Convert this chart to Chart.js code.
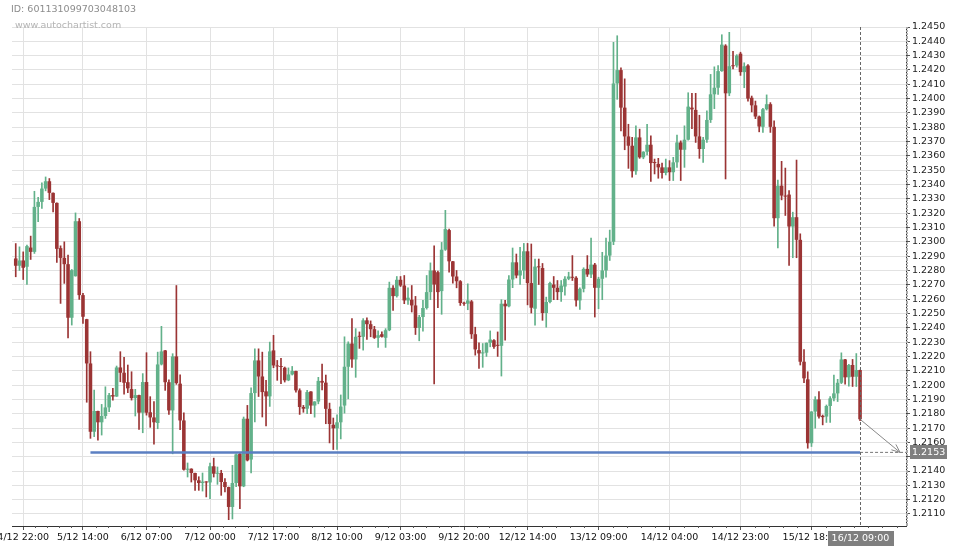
<!DOCTYPE html>
<html>
<head>
<meta charset="utf-8">
<script src="https://cdn.jsdelivr.net/npm/chart.js@4.4.0/dist/chart.umd.min.js"></script>
<style>
  html, body { margin: 0; padding: 0; background: #fff; }
  #wrap { position: relative; width: 960px; height: 550px; }
  #chart-id { position: absolute; left: 11px; top: 3px; font: 9.5px "DejaVu Sans", sans-serif; color: #8c8c8c; }
  #chart-site { position: absolute; left: 15px; top: 19px; font: 9.5px "DejaVu Sans", sans-serif; color: #b4b4b4; }
</style>
</head>
<body>
<div id="wrap">
  <canvas id="chart" width="960" height="550"></canvas>
  <div id="chart-id">ID: 601131099703048103</div>
  <div id="chart-site">www.autochartist.com</div>
</div>
<script>
// hourly candles
const open = [
  1.22884, 1.22833, 1.2287, 1.22826, 1.2296, 1.2293, 1.23244, 1.23279, 1.23372, 1.23423,
  1.23342, 1.23272, 1.22956, 1.22888, 1.22844, 1.2247, 1.2276, 1.23144, 1.22628, 1.2246,
  1.22151, 1.21674, 1.21819, 1.2174, 1.21784, 1.21844, 1.2193, 1.2192, 1.22123, 1.22086,
  1.2202, 1.21972, 1.21909, 1.2193, 1.21807, 1.22021, 1.2181, 1.21774, 1.21735, 1.22144,
  1.22242, 1.2202, 1.21823, 1.222, 1.2201, 1.21753, 1.21409, 1.21416, 1.21386, 1.21335,
  1.21316, 1.21326, 1.2132, 1.21433, 1.21381, 1.21386, 1.21323, 1.21288, 1.21149, 1.21316,
  1.2152, 1.21293, 1.21765, 1.2148, 1.21944, 1.22172, 1.2206, 1.21956, 1.21921, 1.22242,
  1.22137, 1.2213, 1.22121, 1.22033, 1.22074, 1.22098, 1.21963, 1.21847, 1.21835, 1.21955,
  1.21857, 1.21885, 1.22029, 1.22017, 1.21834, 1.21723, 1.21698, 1.2174, 1.21857, 1.22128,
  1.2229, 1.22179, 1.22344, 1.22337, 1.22452, 1.22425, 1.2239, 1.2233, 1.22355, 1.2233,
  1.22383, 1.22679, 1.22621, 1.22735, 1.22695, 1.22591, 1.22596, 1.22556, 1.22399, 1.22475,
  1.22538, 1.22649, 1.228, 1.22788, 1.22656, 1.22945, 1.23082, 1.22864, 1.22758, 1.22725,
  1.22573, 1.22568, 1.22584, 1.22355, 1.22244, 1.22221, 1.22226, 1.22295, 1.22313, 1.22279,
  1.22274, 1.22568, 1.2255, 1.22737, 1.22857, 1.22765, 1.228, 1.22934, 1.22712, 1.22533,
  1.22827, 1.22817, 1.22503, 1.2258, 1.22702, 1.22679, 1.22649, 1.22688, 1.22742, 1.22753,
  1.22749, 1.22591, 1.22672, 1.22811, 1.22772, 1.22841, 1.22679, 1.22742, 1.228, 1.22904,
  1.23, 1.24106, 1.24199, 1.23937, 1.23736, 1.23671, 1.23493, 1.23729, 1.2359, 1.23629,
  1.23678, 1.23555, 1.23544, 1.2352, 1.23481, 1.2352, 1.23486, 1.23555, 1.23694, 1.23643,
  1.23713, 1.23937, 1.23921, 1.23736, 1.23648, 1.23713, 1.23851, 1.2403, 1.24076, 1.24192,
  1.2437, 1.24037, 1.24231, 1.24231, 1.24314, 1.24185, 1.24231, 1.24006, 1.23953, 1.23875,
  1.23803, 1.23926, 1.23961, 1.23803, 1.23165, 1.23392, 1.23323, 1.2333, 1.23107, 1.23172,
  1.23014, 1.22163, 1.2204, 1.21594, 1.21815, 1.219, 1.21785, 1.2178, 1.21854, 1.21907,
  1.21942, 1.22016, 1.22179, 1.22054, 1.2214, 1.22058, 1.22105
];
const high = [
  1.22988, 1.22965, 1.2293, 1.22977, 1.2304, 1.23353, 1.2331, 1.23412, 1.23453, 1.23442,
  1.23342, 1.23272, 1.22972, 1.23, 1.22907, 1.22807, 1.23202, 1.23163, 1.2264, 1.2246,
  1.22233, 1.21965, 1.21819, 1.21865, 1.21988, 1.21942, 1.21977, 1.22133, 1.22233, 1.22193,
  1.2214, 1.22093, 1.2197, 1.2193, 1.2208, 1.22226, 1.21919, 1.21884, 1.2223, 1.2241,
  1.22242, 1.22037, 1.22219, 1.22695, 1.22072, 1.21807, 1.21456, 1.21416, 1.21386, 1.2136,
  1.21386, 1.21326, 1.21456, 1.2149, 1.21428, 1.21405, 1.21347, 1.21288, 1.2144, 1.2152,
  1.2153, 1.21777, 1.21858, 1.21981, 1.22253, 1.22253, 1.2223, 1.22033, 1.223, 1.22347,
  1.22172, 1.22186, 1.22126, 1.2212, 1.2213, 1.22098, 1.21974, 1.21858, 1.21963, 1.21955,
  1.21885, 1.22054, 1.22147, 1.2207, 1.21874, 1.2177, 1.21793, 1.21931, 1.22337, 1.22302,
  1.22464, 1.22394, 1.22371, 1.22464, 1.2247, 1.22448, 1.2241, 1.22378, 1.22371, 1.22394,
  1.22719, 1.22695, 1.22758, 1.22758, 1.22765, 1.22679, 1.22695, 1.22619, 1.22487, 1.22591,
  1.22765, 1.22853, 1.22973, 1.22795, 1.22996, 1.2322, 1.23089, 1.22864, 1.228, 1.2273,
  1.2258, 1.22707, 1.22591, 1.22404, 1.22295, 1.2229, 1.22295, 1.22378, 1.22318, 1.22371,
  1.22596, 1.22591, 1.22765, 1.22957, 1.22915, 1.22962, 1.22989, 1.22989, 1.22985, 1.2288,
  1.2288, 1.22849, 1.22614, 1.22719, 1.22758, 1.2273, 1.2273, 1.22758, 1.22788, 1.22904,
  1.22758, 1.22679, 1.22819, 1.22904, 1.23026, 1.2285, 1.22753, 1.22927, 1.23026, 1.23082,
  1.24393, 1.24439, 1.24215, 1.24138, 1.23821, 1.23729, 1.2381, 1.23787, 1.2363, 1.23821,
  1.2374, 1.23578, 1.23583, 1.2355, 1.23578, 1.23567, 1.2359, 1.23745, 1.23705, 1.2381,
  1.24041, 1.24037, 1.24037, 1.23884, 1.23729, 1.23914, 1.24169, 1.24222, 1.24231, 1.24446,
  1.24377, 1.24463, 1.24331, 1.24307, 1.24324, 1.2425, 1.24238, 1.24018, 1.23983, 1.23879,
  1.23933, 1.24026, 1.23972, 1.23845, 1.23432, 1.23562, 1.23515, 1.23358, 1.23207, 1.23571,
  1.23056, 1.22248, 1.22093, 1.21815, 1.21919, 1.21954, 1.21791, 1.21861, 1.21919, 1.2207,
  1.2204, 1.22225, 1.2218, 1.22145, 1.22179, 1.2222, 1.22105
];
const low = [
  1.22756, 1.228, 1.22737, 1.22702, 1.22877, 1.22919, 1.2314, 1.23233, 1.23356, 1.23295,
  1.23209, 1.22856, 1.2257, 1.2271, 1.2233, 1.22419, 1.2276, 1.22598, 1.2243, 1.2188,
  1.21628, 1.2164, 1.21616, 1.21651, 1.21767, 1.21814, 1.21895, 1.2192, 1.22023, 1.21937,
  1.21947, 1.21895, 1.21784, 1.2169, 1.21667, 1.2179, 1.21705, 1.21588, 1.21695, 1.2214,
  1.21963, 1.21795, 1.2152, 1.22005, 1.21688, 1.21405, 1.21358, 1.21323, 1.21265, 1.21265,
  1.2126, 1.21219, 1.21207, 1.21358, 1.21307, 1.2123, 1.21254, 1.2106, 1.21065, 1.2129,
  1.21137, 1.2129, 1.2147, 1.21386, 1.21742, 1.2192, 1.21777, 1.21714, 1.21851, 1.22121,
  1.22033, 1.2201, 1.22021, 1.2203, 1.2207, 1.2195, 1.21795, 1.2181, 1.218, 1.218,
  1.21776, 1.21869, 1.21966, 1.2173, 1.21596, 1.2155, 1.2155, 1.21624, 1.21804, 1.21904,
  1.22124, 1.22054, 1.22256, 1.22244, 1.22318, 1.22337, 1.22325, 1.22263, 1.22335, 1.22263,
  1.22379, 1.22522, 1.22614, 1.22688, 1.22568, 1.22563, 1.2251, 1.22353, 1.22309, 1.22376,
  1.2253, 1.22596, 1.22008, 1.2254, 1.22494, 1.2294, 1.22788, 1.22712, 1.22679, 1.22556,
  1.22556, 1.22526, 1.22325, 1.22209, 1.22117, 1.22124, 1.222, 1.22267, 1.22256, 1.222,
  1.22063, 1.22313, 1.22545, 1.2268, 1.22748, 1.22702, 1.22743, 1.2256, 1.22503, 1.22418,
  1.22702, 1.22452, 1.22404, 1.22573, 1.22596, 1.22596, 1.22584, 1.22628, 1.22735, 1.2273,
  1.2255, 1.22528, 1.2265, 1.22758, 1.22749, 1.22475, 1.22533, 1.22596, 1.22754, 1.2287,
  1.2298, 1.23995, 1.23775, 1.23643, 1.23513, 1.23451, 1.2347, 1.23583, 1.2358, 1.23606,
  1.23421, 1.23474, 1.23444, 1.23444, 1.23467, 1.23428, 1.23428, 1.2352, 1.23428, 1.2352,
  1.2371, 1.23791, 1.23694, 1.23583, 1.23555, 1.23694, 1.23833, 1.2393, 1.2403, 1.2419,
  1.23439, 1.2402, 1.24208, 1.2422, 1.24162, 1.24076, 1.23983, 1.23907, 1.2386, 1.23768,
  1.23764, 1.2392, 1.23764, 1.23109, 1.22958, 1.23293, 1.23184, 1.22836, 1.22889, 1.22889,
  1.2214, 1.22016, 1.21559, 1.21571, 1.21699, 1.21768, 1.21722, 1.21739, 1.21739, 1.2189,
  1.21885, 1.2201, 1.22007, 1.21993, 1.2199, 1.2199, 1.21752
];
const close = [
  1.22833, 1.2287, 1.22819, 1.2297, 1.2293, 1.23244, 1.23279, 1.23372, 1.23423, 1.23342,
  1.23272, 1.22951, 1.22888, 1.22844, 1.2247, 1.22802, 1.23144, 1.22628, 1.22477, 1.22151,
  1.21674, 1.21819, 1.2174, 1.21784, 1.21844, 1.2193, 1.2192, 1.22123, 1.22086, 1.22016,
  1.21977, 1.21909, 1.2193, 1.21807, 1.22021, 1.21807, 1.21774, 1.2174, 1.22144, 1.22235,
  1.2202, 1.21823, 1.222, 1.22014, 1.21753, 1.21409, 1.21416, 1.21386, 1.21335, 1.21316,
  1.21326, 1.2132, 1.21433, 1.21381, 1.21386, 1.21323, 1.21288, 1.21149, 1.21316, 1.21516,
  1.21293, 1.21765, 1.21474, 1.21944, 1.22172, 1.2206, 1.21951, 1.21921, 1.22235, 1.22137,
  1.2213, 1.22126, 1.22033, 1.22074, 1.22098, 1.21963, 1.21847, 1.21835, 1.21951, 1.21857,
  1.21885, 1.22029, 1.22017, 1.21834, 1.21728, 1.21698, 1.2174, 1.2185, 1.22128, 1.2229,
  1.22179, 1.22337, 1.22337, 1.22452, 1.22425, 1.2239, 1.2233, 1.22348, 1.22337, 1.22383,
  1.22679, 1.22621, 1.22735, 1.22695, 1.22591, 1.2261, 1.22556, 1.22399, 1.22475, 1.22538,
  1.22649, 1.228, 1.22702, 1.22649, 1.22945, 1.23089, 1.22864, 1.22758, 1.22725, 1.22573,
  1.22568, 1.22591, 1.22355, 1.22249, 1.22221, 1.22226, 1.22295, 1.22318, 1.22267, 1.22274,
  1.22568, 1.2255, 1.22737, 1.22857, 1.22765, 1.228, 1.22934, 1.22712, 1.2254, 1.22827,
  1.22822, 1.22503, 1.2258, 1.22712, 1.22679, 1.22649, 1.22695, 1.22742, 1.22758, 1.22749,
  1.22591, 1.22672, 1.22811, 1.22772, 1.22841, 1.22679, 1.22742, 1.228, 1.22904, 1.23,
  1.24106, 1.24199, 1.23937, 1.23736, 1.23671, 1.23493, 1.23729, 1.2359, 1.23629, 1.23678,
  1.2355, 1.2355, 1.2352, 1.23481, 1.2352, 1.23486, 1.23555, 1.23694, 1.23643, 1.23713,
  1.23944, 1.23925, 1.23736, 1.23648, 1.23713, 1.23851, 1.2403, 1.24076, 1.24192, 1.24377,
  1.24037, 1.24226, 1.24226, 1.243, 1.24185, 1.24226, 1.24, 1.23953, 1.23875, 1.23805,
  1.23926, 1.23961, 1.23803, 1.23165, 1.23392, 1.23323, 1.23316, 1.23107, 1.23172, 1.23014,
  1.22163, 1.22047, 1.21594, 1.21815, 1.219, 1.2178, 1.21776, 1.21854, 1.21907, 1.21942,
  1.22016, 1.22179, 1.22054, 1.2214, 1.22058, 1.22105, 1.21761
];

const tickLabels = ['4/12 22:00', '5/12 14:00', '6/12 07:00', '7/12 00:00', '7/12 17:00', '8/12 10:00',
  '9/12 03:00', '9/12 20:00', '12/12 14:00', '13/12 09:00', '14/12 04:00', '14/12 23:00', '15/12 18:00'];
const nowLabel = '16/12 09:00';
const targetLevel = 1.2153;
const levelStartBar = 20;   // where the support line starts
const arrowEndBar = 236.7;  // projection end

// price ticks every 10 pips, 1.2110 .. 1.2450
const yTicks = [];
for (let p = 12110; p <= 12450; p += 10) yTicks.push(p / 10000);

// time of each candle (hourly, market closed over the weekend)
function pad(n) { return n < 10 ? '0' + n : '' + n; }
const times = [];
let t = Date.UTC(2020, 11, 4, 20);
for (let i = 0; i < close.length; i++) {
  const d = new Date(t);
  times.push(d.getUTCDate() + '/12 ' + pad(d.getUTCHours()) + ':00');
  t += 3600000;
  if (i === 121) t = Date.UTC(2020, 11, 11, 23);
}
const tickIdx = tickLabels.map(l => times.indexOf(l));
const lastBar = close.length - 1;

const green = '#62b18a';
const red = '#9b3434';
const candleColor = ctx => close[ctx.dataIndex] >= open[ctx.dataIndex] ? green : red;

const wicks = close.map((c, i) => ({ x: i, y: [low[i], high[i]] }));
const bodies = close.map((c, i) => ({ x: i, y: [open[i], c] }));

const xMin = -1, xMax = 238.3;

Chart.defaults.font.family = '"DejaVu Sans", sans-serif';
Chart.defaults.font.size = 9.5;
Chart.defaults.color = '#222';

const overlay = {
  id: 'overlay',
  afterDraw(chart) {
    const ctx = chart.ctx;
    const xs = chart.scales.x, ys = chart.scales.y;
    const area = chart.chartArea;
    ctx.save();

    // minor ticks on the time axis
    ctx.strokeStyle = '#555';
    ctx.lineWidth = 1;
    const majors = tickIdx;
    const minorAt = [];
    for (let k = 0; k < majors.length - 1; k++) {
      const step = (majors[k + 1] - majors[k]) / 5;
      for (let j = 1; j < 5; j++) minorAt.push(majors[k] + j * step);
    }
    const s0 = (majors[1] - majors[0]) / 5;
    for (let v = majors[0] - s0; v > xMin; v -= s0) minorAt.push(v);
    const s1 = (majors[majors.length - 1] - majors[majors.length - 2]) / 5;
    for (let v = majors[majors.length - 1] + s1; v < xMax; v += s1) minorAt.push(v);
    ctx.beginPath();
    minorAt.forEach(v => {
      const px = Math.round(xs.getPixelForValue(v)) + 0.5;
      ctx.moveTo(px, area.bottom);
      ctx.lineTo(px, area.bottom + 2);
    });
    ctx.stroke();

    // minor ticks on the price axis, one per pip
    ctx.strokeStyle = '#aaa';
    ctx.beginPath();
    for (let p = 12102; p <= 12450; p++) {
      const py = Math.round(ys.getPixelForValue(p / 10000)) + 0.5;
      ctx.moveTo(area.right, py);
      ctx.lineTo(area.right + 2, py);
    }
    ctx.stroke();

    // dashed vertical line at the last candle
    const lx = Math.round(xs.getPixelForValue(lastBar)) + 0.5;
    ctx.strokeStyle = '#666';
    ctx.setLineDash([3, 2]);
    ctx.beginPath();
    ctx.moveTo(lx, area.top);
    ctx.lineTo(lx, area.bottom);
    ctx.stroke();
    ctx.setLineDash([]);

    // arrowhead of the projection
    const ax0 = xs.getPixelForValue(lastBar), ay0 = ys.getPixelForValue(close[lastBar]);
    const ax1 = xs.getPixelForValue(arrowEndBar), ay1 = ys.getPixelForValue(targetLevel);
    const ang = Math.atan2(ay1 - ay0, ax1 - ax0);
    ctx.strokeStyle = '#888';
    ctx.beginPath();
    ctx.moveTo(ax1 - 9 * Math.cos(ang - 0.4), ay1 - 9 * Math.sin(ang - 0.4));
    ctx.lineTo(ax1, ay1);
    ctx.lineTo(ax1 - 9 * Math.cos(ang + 0.4), ay1 - 9 * Math.sin(ang + 0.4));
    ctx.stroke();

    // price label on the right axis
    const ly = ys.getPixelForValue(targetLevel);
    ctx.fillStyle = '#7f7f7f';
    ctx.fillRect(area.right + 4, Math.round(ly) - 7, 37, 14);
    ctx.fillStyle = '#fff';
    ctx.font = '9.5px "DejaVu Sans", sans-serif';
    ctx.textBaseline = 'middle';
    ctx.textAlign = 'left';
    ctx.fillText(targetLevel.toFixed(4), area.right + 6, Math.round(ly) + 0.5);

    // time label of the last candle
    ctx.fillStyle = '#7f7f7f';
    ctx.fillRect(Math.round(lx) - 33, area.bottom + 5, 66, 15);
    ctx.fillStyle = '#fff';
    ctx.textAlign = 'center';
    ctx.fillText(nowLabel, lx, area.bottom + 12.5);
    ctx.restore();
  }
};

new Chart(document.getElementById('chart'), {
  type: 'bar',
  data: {
    datasets: [
      {
        type: 'line',
        data: [{ x: levelStartBar, y: targetLevel }, { x: lastBar, y: targetLevel }],
        borderColor: '#5b7fc2',
        borderWidth: 2.5,
        pointRadius: 0,
        order: -2
      },
      {
        type: 'line',
        data: [{ x: lastBar, y: targetLevel }, { x: xMax, y: targetLevel }],
        borderColor: '#777',
        borderWidth: 1,
        borderDash: [3, 2],
        pointRadius: 0,
        order: -1
      },
      {
        type: 'line',
        data: [{ x: lastBar, y: close[lastBar] }, { x: arrowEndBar, y: targetLevel }],
        borderColor: '#888',
        borderWidth: 1,
        pointRadius: 0,
        order: -1
      },
      {
        data: bodies,
        backgroundColor: candleColor,
        borderWidth: 0,
        barPercentage: 0.96,
        categoryPercentage: 1,
        grouped: false,
        minBarLength: 1,
        order: 0
      },
      {
        data: wicks,
        backgroundColor: candleColor,
        borderWidth: 0,
        barThickness: 1,
        grouped: false,
        order: 1
      }
    ]
  },
  options: {
    responsive: false,
    animation: false,
    events: [],
    layout: { padding: { left: 12, top: 27, right: 0, bottom: 0 } },
    plugins: { legend: { display: false }, tooltip: { enabled: false } },
    scales: {
      x: {
        type: 'linear',
        min: xMin,
        max: xMax,
        offset: false,
        grid: { offset: false, color: '#e2e2e2', tickColor: '#555', tickLength: 4 },
        border: { color: '#333' },
        afterBuildTicks: scale => { scale.ticks = tickIdx.map(v => ({ value: v })); },
        afterFit: scale => { scale.height = 24; scale.paddingLeft = 0; scale.paddingRight = 0; },
        ticks: {
          autoSkip: false,
          maxRotation: 0,
          minRotation: 0,
          padding: 2,
          color: '#111',
          callback: v => times[v] || ''
        }
      },
      y: {
        position: 'right',
        min: 1.21016,
        max: 1.2450,
        beginAtZero: false,
        grid: { color: '#e2e2e2', tickColor: '#555', tickLength: 4 },
        border: { color: '#333' },
        afterBuildTicks: scale => { scale.ticks = yTicks.map(v => ({ value: v })); },
        afterFit: scale => { scale.width = 54; scale.paddingTop = 0; scale.paddingBottom = 0; },
        ticks: {
          padding: 2,
          color: '#222',
          callback: v => v.toFixed(4)
        }
      }
    }
  },
  plugins: [overlay]
});
</script>
</body>
</html>
